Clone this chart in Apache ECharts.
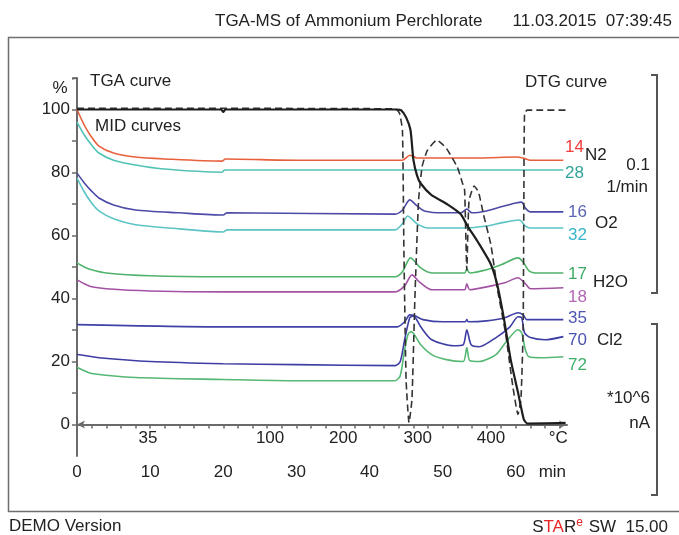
<!DOCTYPE html>
<html><head><meta charset="utf-8">
<script src="https://cdn.jsdelivr.net/npm/echarts@6/dist/echarts.min.js"></script>
<style>html,body{margin:0;padding:0;background:#fff}#c{width:679px;height:535px}</style>
</head><body><div id="c"></div>
<script>
// ---- data ----
const timeTicks = [0, 10, 20, 30, 40, 50, 60];
const timeUnitAt = 65;
const tempLabels = ['35', '100', '200', '300', '400', '°C'];
const tempTimes = [9.7, 26.4, 36.4, 46.6, 56.6, 65.8];
const yTicks = [0, 20, 40, 60, 80, 100];

const tga = [[0,100],[19.7,100],[20,99.2],[20.3,100],[43.7,100],[44.3,99.8],[45,97.5],[45.6,93.5],[46,84],[46.5,79],[47,76.5],[48.4,73],[50.7,69.8],[52.5,66.7],[53.4,63],[54.8,58],[56.6,50.8],[57.5,44],[58.4,33.3],[59.3,20.6],[60.3,10.2],[61.1,1.6],[61.6,0.3],[66.8,0.5]];
const dtg = [[0,100.4],[43.5,100.2],[44.1,98.8],[44.5,93.4],[44.7,55],[45.0,14],[45.4,0.6],[45.8,8],[46.2,40],[46.7,71],[47.2,82],[47.9,87],[49.2,90.3],[50.5,87.7],[52.0,81.7],[52.7,76.7],[53.0,74.4],[53.3,49],[53.6,71],[54.3,75.7],[54.9,73.8],[55.6,66.5],[56.6,57],[57.5,42.8],[58.6,29],[59.6,12],[60.3,3.2],[60.7,8],[61.0,30],[61.1,71],[61.2,99],[61.6,99.8],[66.8,99.8]];

const m14 = [[0,100],[1,95],[2,91.2],[3,88.4],[5,86.2],[8,84.9],[12,84.3],[19.8,83.6],[20.3,84.3],[30,83.9],[44.5,83.9],[45.5,85.5],[46.5,84.6],[55,84.6],[60,84.9],[61,84.6],[62,83.9],[66.5,83.9]];
const m28 = [[0,96],[1,91.9],[2,88.7],[3,86.2],[5,83.9],[8,82.4],[12,81.1],[19.8,80.1],[20.2,80.8],[66.5,80.8]];
const m16 = [[0,79.8],[1,76.7],[2,74.1],[3,71.9],[5,69.7],[8,68.1],[14,67.2],[20,66.5],[20.5,67.2],[43.5,66.8],[44.5,68.1],[45.5,71.3],[46.5,69.4],[47.5,67.8],[50,67.2],[52.5,67.2],[53.3,68.4],[54,67.2],[56,67.8],[58,69.1],[60,70.3],[60.8,70.6],[61.3,68.7],[62,67.5],[66.5,67.5]];
const m32 = [[0,78.2],[1,73.8],[2,70.3],[3,67.8],[5,65.3],[8,63.4],[14,62.1],[20,61.1],[20.5,61.8],[43.5,61.8],[44.5,63.7],[45.2,66.2],[46.5,63.7],[48,62.4],[53,62.4],[56,63],[58,64],[60.5,64.9],[61.3,63],[62,62.4],[66.5,62.4]];
const m17 = [[0,51.3],[1,50],[2,49.1],[4,48.1],[10,47.2],[20,46.9],[43.5,46.9],[44.5,48.5],[45.6,52.9],[47,49.7],[48.5,48.1],[53,48.1],[53.3,49.4],[53.7,48.1],[56,49.1],[58,50.7],[60.3,52.9],[61,51.6],[61.8,48.8],[63,48.1],[66.5,48.1]];
const m18 = [[0,45.9],[1,44.7],[2,43.7],[4,43.1],[10,42.4],[20,42.1],[43.5,42.1],[44.8,44],[45.8,47.5],[46.8,45.3],[48.5,42.8],[53,42.8],[53.3,44.7],[53.7,42.8],[56,43.7],[58.5,45],[60.3,46.6],[61.3,44.7],[62,43.1],[66.5,43.4]];
const m35 = [[0,31.7],[20,31],[43.8,31],[44.8,32.6],[45.5,34.8],[46.2,34.5],[47.3,33.3],[50,32.6],[53.1,32.6],[53.3,33.3],[53.5,32.6],[56,32.9],[58.5,33.9],[60.3,35.5],[61,34.8],[61.5,33.3],[66.5,33.3]];
const m70 = [[0,22.2],[1,21.9],[3,21.2],[10,20],[20,19.3],[30,19],[43.5,18.7],[44.2,20],[44.8,26.9],[45.5,33.9],[46,34.5],[47,31],[48.5,26.9],[51.5,25],[52.8,25.3],[53.3,30.1],[53.9,25.3],[55,24.7],[57.3,27.6],[59.2,31],[60.3,34.2],[60.8,33.9],[61.2,29.1],[62,27.6],[64,26.9],[66.5,27.9]];
const m72 = [[0,18.1],[1,17.1],[2,16.2],[8,14.9],[20,14.3],[30,13.9],[43.5,13.9],[44.2,15.5],[44.8,23.8],[45.3,28.8],[45.7,29.5],[47,25.3],[48.5,22.2],[50.5,20.6],[52.8,20],[53.3,24.4],[53.7,20.3],[55,20],[57.3,22.2],[58.6,26],[60.3,30.1],[60.8,29.1],[61.3,23.8],[61.8,21.5],[63.5,21.2],[66.5,21.5]];

const midNames = ['14','28','16','32','17','18','35','70','72'];
const midData = [m14, m28, m16, m32, m17, m18, m35, m70, m72];
const midColors = ['#e8603c','#52c3b5','#4b4aa6','#5cc4c4','#4fb36b','#a352a3','#4040a6','#3d3da3','#55b874'];
const labelColors = ['#ee3d3d','#2fa597','#5a64b4','#38b5c8','#3caa66','#b366b3','#4f56b3','#4a50b0','#3db06a'];

// ---- chart ----
const FONT = '"Liberation Sans", Arial, sans-serif';
const chart = echarts.init(document.getElementById('c'), null, {renderer: 'canvas'});
const xTickVals = []; for (let t = 0; t <= 66; t += 2) xTickVals.push(t);
const yTickVals = []; for (let v = 0; v <= 110; v += 10) yTickVals.push(v);
const axisCol = '#6a6a6a';

const series = midData.map((d, i) => ({
  name: midNames[i], type: 'line', data: d, showSymbol: false, smooth: 0.25,
  lineStyle: {color: midColors[i], width: 1.6}, z: 2
}));
series.push({name: 'TGA', type: 'line', data: tga, showSymbol: false, smooth: 0.2,
  lineStyle: {color: '#1e1e1e', width: 2.2}, z: 4});
series.push({name: 'DTG', type: 'line', data: dtg, showSymbol: false, smooth: 0.15,
  lineStyle: {color: '#333', width: 1.6, type: [7, 4]}, z: 3});

function txt(text, x, y, opts) {
  return Object.assign({type: 'text', x: x, y: y, silent: true,
    style: Object.assign({text: text, font: '17px ' + FONT, fill: '#222', align: 'left', verticalAlign: 'middle'}, opts || {})});
}

const graphics = [
  {type: 'rect', shape: {x: 8.5, y: 37.5, width: 700, height: 474}, style: {fill: 'none', stroke: '#6e6e6e', lineWidth: 1.5}, silent: true},
  {type: 'polyline', shape: {points: [[651,75],[657,75],[657,293],[651,293]]}, style: {fill: 'none', stroke: '#555', lineWidth: 2}, silent: true},
  {type: 'polyline', shape: {points: [[651,324],[657,324],[657,495],[651,495]]}, style: {fill: 'none', stroke: '#555', lineWidth: 2}, silent: true},
  {type: 'polyline', shape: {points: [[72,79],[77,78]]}, style: {fill: 'none', stroke: axisCol, lineWidth: 1.5}, silent: true},
  txt('TGA-MS of Ammonium Perchlorate', 215, 21),
  txt('11.03.2015  07:39:45', 672, 21, {align: 'right'}),
  txt('%', 60, 88, {align: 'center'}),
  txt('TGA curve', 90, 81),
  txt('MID curves', 95, 126),
  txt('DTG curve', 525, 82),
  txt('N2', 585, 155),
  txt('0.1', 650, 165, {align: 'right'}),
  txt('1/min', 648, 187, {align: 'right'}),
  txt('O2', 595, 223),
  txt('H2O', 593, 282),
  txt('Cl2', 597, 340),
  txt('*10^6', 650, 398, {align: 'right'}),
  txt('nA', 650, 423, {align: 'right'}),
  txt('DEMO Version', 9, 526),
  {type: 'text', x: 668, y: 527, silent: true, style: {
    text: '{k|S}{r|TA}{k|R}{sup|e}{k| SW  15.00}', align: 'right', verticalAlign: 'middle',
    rich: {k: {font: '17px ' + FONT, fill: '#222'}, r: {font: '17px ' + FONT, fill: '#e8262a'},
           sup: {font: '12px ' + FONT, fill: '#e8262a', padding: [0, 1, 9, 0]}}}}
];
const midLabelY = [147, 173, 212, 235, 274, 297, 318, 340, 365];
const midLabelX = [565, 565, 568, 568, 568, 568, 568, 568, 568];
midNames.forEach((n, i) => graphics.push(txt(n, midLabelX[i], midLabelY[i], {fill: labelColors[i]})));

chart.setOption({
  animation: false,
  backgroundColor: '#fff',
  textStyle: {fontFamily: FONT},
  grid: {left: 77, right: 112, top: 78, bottom: 79, containLabel: false},
  xAxis: [{
    type: 'value', min: 0, max: 67, position: 'bottom', splitLine: {show: false},
    axisLine: {show: true, lineStyle: {color: axisCol, width: 2}, symbol: ['arrow', 'arrow'], symbolSize: [6, 8]},
    axisTick: {show: true, customValues: xTickVals, length: 4, lineStyle: {color: axisCol, width: 1.5}},
    axisLabel: {customValues: timeTicks.concat([timeUnitAt]), color: '#222', fontSize: 17, margin: 8,
      formatter: v => (Math.abs(v - timeUnitAt) < 1e-6 ? 'min' : String(v))}
  }, {
    type: 'value', min: 0, max: 67, position: 'bottom', splitLine: {show: false},
    axisLine: {show: false}, axisTick: {show: false},
    axisLabel: {inside: true, customValues: tempTimes, color: '#222', fontSize: 17, margin: 9,
      formatter: v => { const i = tempTimes.findIndex(t => Math.abs(t - v) < 1e-6); return i >= 0 ? tempLabels[i] : ''; }}
  }],
  yAxis: {
    type: 'value', min: -10, max: 110, splitLine: {show: false},
    axisLine: {show: true, lineStyle: {color: axisCol, width: 2}},
    axisTick: {show: true, customValues: yTickVals, length: 5, lineStyle: {color: axisCol, width: 1.5}},
    axisLabel: {customValues: yTicks, color: '#222', fontSize: 17, margin: 7}
  },
  series: series,
  graphic: graphics
});
</script></body></html>
